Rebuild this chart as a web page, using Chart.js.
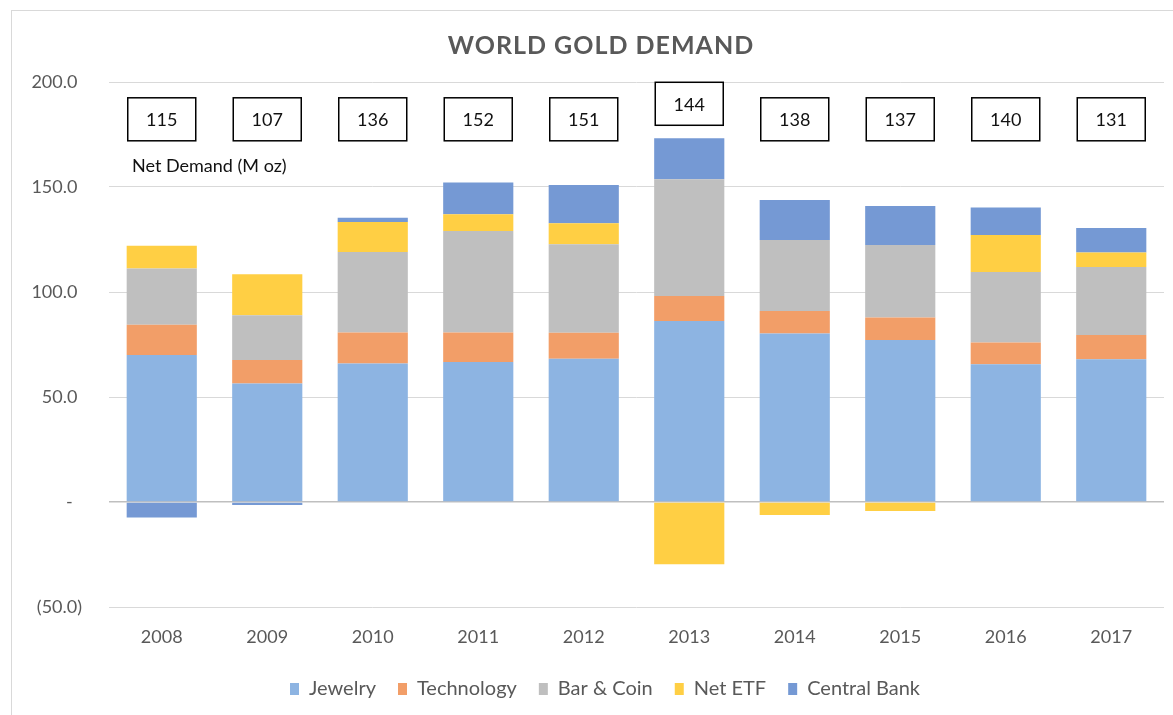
<!DOCTYPE html>
<html>
<head>
<meta charset="utf-8">
<script src="https://cdn.jsdelivr.net/npm/chart.js@4"></script>
<style>
  body { margin: 0; background: #fff; }
  #frame { position: absolute; left: 11px; top: 10px; width: 1200px; height: 800px;
           border-top: 1px solid #d9d9d9; border-left: 1px solid #d9d9d9; }
  #wrap { position: absolute; left: 0; top: 0; width: 1173px; height: 715px; }
</style>
</head>
<body>
<div id="frame"></div>
<div id="wrap"><canvas id="myChart"></canvas></div>
<script>
var years = ["2008", "2009", "2010", "2011", "2012", "2013", "2014", "2015", "2016", "2017"];
var jewelry = [70.0, 56.4, 65.9, 66.7, 68.2, 86.2, 80.2, 77.1, 65.6, 68.0];
var technology = [14.4, 11.2, 14.8, 14.0, 12.4, 11.9, 10.8, 10.7, 10.3, 11.5];
var barCoin = [26.8, 21.3, 38.3, 48.3, 42.1, 55.6, 33.8, 34.6, 33.6, 32.4];
var netEtf = [10.8, 19.5, 14.3, 8.0, 10.0, -29.6, -6.2, -4.3, 17.6, 6.9];
var centralBank = [-7.4, -1.4, 2.1, 15.1, 18.2, 19.5, 19.0, 18.6, 13.1, 11.7];
var netDemand = [115, 107, 136, 152, 151, 144, 138, 137, 140, 131];

var FONT = "Lato";
var GREY = "#595959";

// title, "Net Demand" note and the boxed totals above each bar
var demandBoxes = {
  id: "demandBoxes",
  afterLayout: function (chart) {
    // legend sits a little right of the canvas centre
    chart.legend.left += 23;
    chart.legend.right += 23;
  },
  afterDatasetsDraw: function (chart) {
    var ctx = chart.ctx;
    var x = chart.scales.x, y = chart.scales.y;
    ctx.save();
    ctx.font = "bold 25px " + FONT;
    ctx.letterSpacing = "1px";
    ctx.fillStyle = GREY;
    ctx.textAlign = "center";
    ctx.textBaseline = "middle";
    ctx.fillText("WORLD GOLD DEMAND", 601, 46);
    ctx.letterSpacing = "0px";

    ctx.font = "18px " + FONT;
    netDemand.forEach(function (v, i) {
      var top = 0;
      chart.data.datasets.forEach(function (ds) {
        if (ds.data[i] > 0) top += ds.data[i];
      });
      var cx = x.getPixelForValue(i);
      var bottom = Math.min(y.getPixelForValue(172), y.getPixelForValue(top) - 13);
      var w = 68, h = 43;
      ctx.fillStyle = "#fff";
      ctx.fillRect(cx - w / 2, bottom - h, w, h);
      ctx.strokeStyle = "#000";
      ctx.lineWidth = 1.5;
      ctx.strokeRect(cx - w / 2, bottom - h, w, h);
      ctx.fillStyle = "#111";
      ctx.fillText(String(v), cx, bottom - h / 2 + 1);
    });
    ctx.textAlign = "left";
    ctx.fillStyle = "#111";
    ctx.fillText("Net Demand (M oz)", chart.chartArea.left + 23, y.getPixelForValue(160));
    ctx.restore();
  },
};

var ctx = document.getElementById("myChart").getContext("2d");
var chart = new Chart(ctx, {
  type: "bar",
  data: {
    labels: years,
    datasets: [
      { label: "Jewelry", data: jewelry, backgroundColor: "rgb(141, 180, 226)" },
      { label: "Technology", data: technology, backgroundColor: "rgb(242, 158, 104)" },
      { label: "Bar & Coin", data: barCoin, backgroundColor: "rgb(191, 191, 191)" },
      { label: "Net ETF", data: netEtf, backgroundColor: "rgb(255, 207, 68)" },
      { label: "Central Bank", data: centralBank, backgroundColor: "rgb(117, 153, 212)" },
    ],
  },
  options: {
    animation: { duration: 0 },
    responsive: true,
    maintainAspectRatio: false,
    categoryPercentage: 1,
    barPercentage: 0.665,
    layout: { padding: { left: 0, right: 9, top: 82, bottom: 6 } },
    plugins: {
      title: { display: false },
      legend: {
        position: "bottom",
        labels: {
          color: GREY,
          font: { family: FONT, size: 20 },
          boxWidth: 9,
          boxHeight: 12,
          padding: 22,
        },
      },
      tooltip: { enabled: false },
    },
    scales: {
      x: {
        stacked: true,
        afterFit: function (scale) { scale.height = 50; },
        grid: { display: false, drawTicks: false },
        border: { display: false },
        ticks: { color: GREY, font: { family: FONT, size: 18 }, padding: 19 },
      },
      y: {
        stacked: true,
        min: -50,
        max: 200,
        afterFit: function (scale) { scale.width = 109; },
        grid: {
          drawTicks: false,
          color: function (c) { return c.tick && c.tick.value === 0 ? "#bfbfbf" : "#d9d9d9"; },
          lineWidth: function (c) { return c.tick && c.tick.value === 0 ? 1.5 : 1; },
        },
        border: { display: false },
        ticks: {
          stepSize: 50,
          color: GREY,
          font: { family: FONT, size: 18 },
          padding: 27,
          callback: function (v) {
            if (v === 0) return "-  ";
            if (v < 0) return "(" + Math.abs(v).toFixed(1) + ")";
            return v.toFixed(1) + " ";
          },
        },
      },
    },
  },
  plugins: [demandBoxes],
});
</script>
</body>
</html>
